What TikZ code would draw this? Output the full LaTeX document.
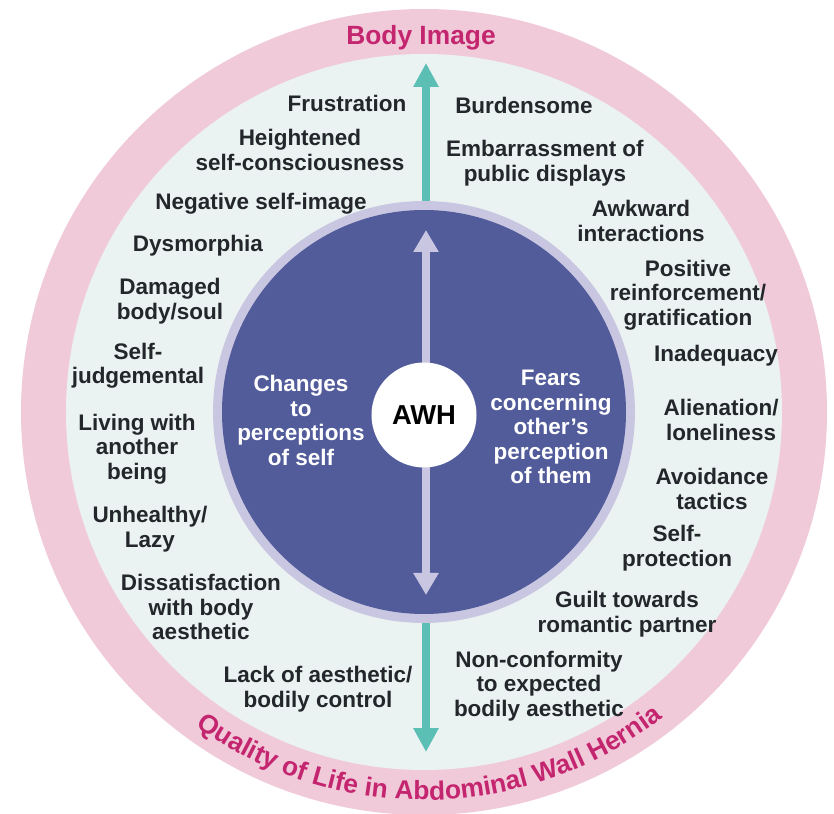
\documentclass[tikz,border=0pt]{standalone}
\usepackage{fontspec}
\setmainfont{Liberation Sans}
\usetikzlibrary{arrows.meta,decorations.text}

\definecolor{ringpink}{HTML}{F1CADA}
\definecolor{mint}{HTML}{EAF3F1}
\definecolor{axisteal}{HTML}{5BBFB6}
\definecolor{lavender}{HTML}{C9C6E1}
\definecolor{discblue}{HTML}{525C9B}
\definecolor{titlepink}{HTML}{C4256F}
\definecolor{labelgrey}{HTML}{23272B}

\begin{document}
\begin{tikzpicture}[x=0.2cm, y=0.2cm]
    \tikzset{item/.style={text=labelgrey, align=center, inner sep=0pt,
                font=\bfseries\fontsize{12.8}{13.9}\selectfont},
             inner item/.style={item, text=white},
             title/.style={text=titlepink, inner sep=0pt,
                font=\bfseries\fontsize{15}{18}\selectfont},
             axis line/.style={line width=0.16cm,
                {Triangle[width=0.48cm, length=0.48cm]}-{Triangle[width=0.48cm, length=0.48cm]}},
             self line/.style={line width=0.16cm, lavender,
                {Triangle[width=0.48cm, length=0.44cm]}-{Triangle[width=0.48cm, length=0.44cm]}}}
    \useasboundingbox (-42.4, -40.2) rectangle (41.0, 41.2);
    % \draw [help lines] (-42, -40) grid (41, 41);

    % rings
    \fill [ringpink] (0, 0) circle (40.3);
    \fill [mint] (0, 0) circle (35.8);
    \coordinate (bi) at (0.2, 34.9);
    \coordinate (qol) at (0.2, -34.0);
    \draw [axis line, axisteal] (qol) -- (bi);
    \fill [lavender] (0, 0) circle (21.1);
    \fill [discblue] (0, 0) circle (20.2);
    \coordinate (up) at (0.2, 18.2);
    \coordinate (down) at (0.2, -18.3);
    \draw [self line] (down) -- (up);
    \node [circle, fill=white, minimum size=2.1cm, inner sep=0pt,
           font=\bfseries\fontsize{15.6}{18}\selectfont] (awh) at (0, -0.3) {AWH};

    \node [inner item] (changes) at (-12.3, -0.85) {Changes\\to\\perceptions\\of self};
    \node [inner item] (fears) at (12.7, -1.5) {Fears\\concerning\\other's\\perception\\of them};

    % titles on the pink ring
    \node [title] (body) at (-0.3, 37.4) {Body Image};
    \path [decorate, decoration={text along path, text align=center, text color=titlepink,
           text={|\bfseries\fontsize{15}{18}\selectfont|Quality of Life in Abdominal Wall Hernia}}]
        (221:38.8) arc [start angle=221, end angle=321, radius=38.8];

    % self
    \node [item] (frustration) at (-7.7, 30.9) {Frustration};
    \node [item] (heightened) at (-12.4, 26.2) {Heightened\\self-consciousness};
    \node [item] (negative) at (-16.3, 20.8) {Negative self-image};
    \node [item] (dysmorphia) at (-22.6, 16.6) {Dysmorphia};
    \node [item] (damaged) at (-25.4, 11.1) {Damaged\\body/soul};
    \node [item] (judgemental) at (-28.6, 4.6) {Self-\\judgemental};
    \node [item] (living) at (-28.7, -3.7) {Living with\\another\\being};
    \node [item] (unhealthy) at (-27.4, -11.7) {Unhealthy/\\Lazy};
    \node [item] (dissatisfaction) at (-22.3, -19.5) {Dissatisfaction\\with body\\aesthetic};
    \node [item] (lack) at (-10.6, -27.7) {Lack of aesthetic/\\bodily control};

    % others
    \node [item] (burdensome) at (10.0, 30.7) {Burdensome};
    \node [item] (embarrassment) at (12.1, 24.9) {Embarrassment of\\public displays};
    \node [item] (awkward) at (21.7, 19.1) {Awkward\\interactions};
    \node [item] (positive) at (26.4, 11.7) {Positive\\reinforcement/\\gratification};
    \node [item] (inadequacy) at (29.2, 5.6) {Inadequacy};
    \node [item] (alienation) at (29.7, -0.8) {Alienation/\\loneliness};
    \node [item] (avoidance) at (28.8, -7.7) {Avoidance\\tactics};
    \node [item] (protection) at (25.3, -13.6) {Self-\\protection};
    \node [item] (guilt) at (20.3, -20.2) {Guilt towards\\romantic partner};
    \node [item] (nonconformity) at (11.5, -27.4) {Non-conformity\\to expected\\bodily aesthetic};
\end{tikzpicture}
\end{document}
